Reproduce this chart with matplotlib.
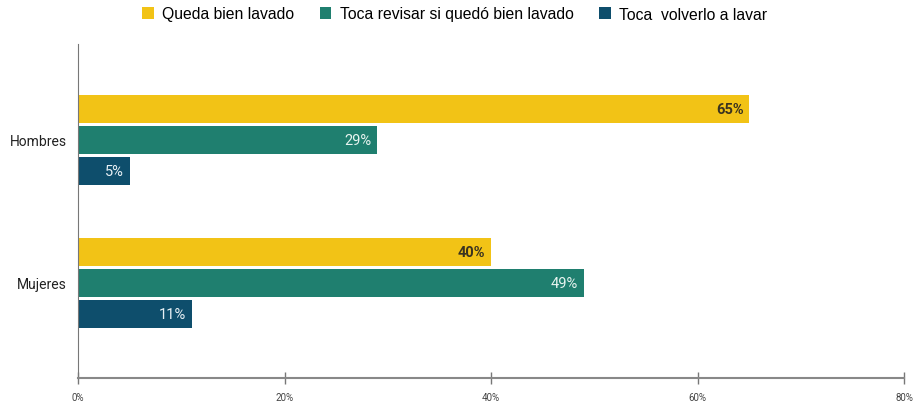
import matplotlib
matplotlib.use("Agg")
import matplotlib.pyplot as plt
import numpy as np

plt.rcParams['font.family'] = ['Roboto', 'DejaVu Sans']

categories = ["Hombres", "Mujeres"]
series_names = ["Queda bien lavado", "Toca revisar si quedó bien lavado", "Toca  volverlo a lavar"]
values = {
    "Queda bien lavado": [65, 40],
    "Toca revisar si quedó bien lavado": [29, 49],
    "Toca  volverlo a lavar": [5, 11],
}
colors = ["#F2C316", "#1F7F6F", "#0E4E6C"]
label_colors = ["#3a3320", "#e8f4f0", "#e8f0f5"]
label_weights = ["bold", "normal", "normal"]
x_ticks = [0, 20, 40, 60, 80]

fig = plt.figure(figsize=(9.17, 4.06), dpi=100)
ax = fig.add_axes([78 / 917, 1 - 379 / 406, 826 / 917, 334 / 406])

y = np.arange(len(categories))
h = 0.196
step = 0.217
for i, name in enumerate(series_names):
    pos = y + (i - 1) * step
    bars = ax.barh(pos, values[name], height=h, color=colors[i], label=name)
    for b, v in zip(bars, values[name]):
        ax.text(b.get_width() - 0.55, b.get_y() + b.get_height() / 2, f"{v}%",
                ha="right", va="center", fontsize=10.5, color=label_colors[i],
                fontweight=label_weights[i])

ax.set_xlim(0, 80)
ax.set_ylim(1.665, -0.67)
ax.set_yticks(y)
ax.set_yticklabels(categories, fontsize=10, color="#222222")
ax.tick_params(axis="y", length=0, pad=8)
ax.set_xticks(x_ticks)
ax.set_xticklabels([f"{t}%" for t in x_ticks], fontsize=7, color="#444444")
ax.tick_params(axis="x", direction="inout", length=8, width=1, color="#777777", pad=6)

for s in ["top", "right"]:
    ax.spines[s].set_visible(False)
ax.spines["left"].set_color("#777777")
ax.spines["bottom"].set_color("#888888")
ax.spines["bottom"].set_linewidth(1.5)

fig.legend(loc="center", bbox_to_anchor=(0.496, 1 - 15 / 406), ncol=3, frameon=False,
           prop={"family": ["Liberation Sans", "DejaVu Sans"], "size": 11.3},
           handlelength=0.75, handleheight=0.75, handletextpad=0.55,
           columnspacing=1.6, borderpad=0)

fig.savefig("out.png", dpi=100)
